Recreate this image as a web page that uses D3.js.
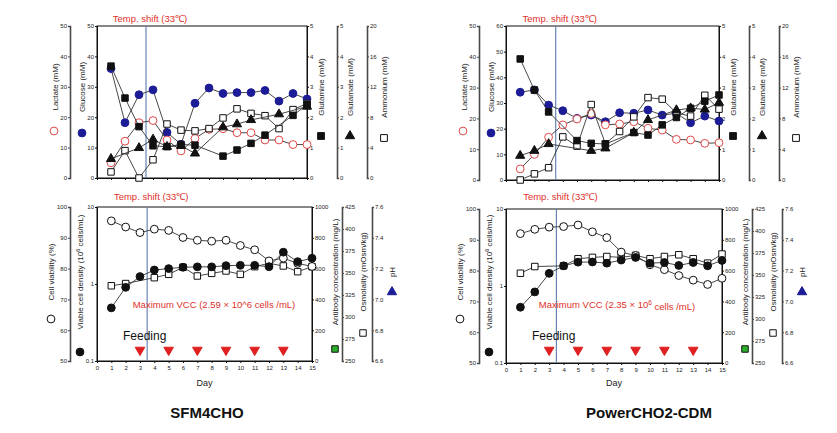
<!DOCTYPE html>
<html><head><meta charset="utf-8">
<script src="https://cdn.jsdelivr.net/npm/d3@7"></script>
<style>body{margin:0;background:#fff}svg{display:block}</style>
</head><body><svg id="c" width="837" height="433"></svg>
<script>
const F = 'Arial, "Liberation Sans", sans-serif';
const days = d3.range(1, 16);
const feedDays = [3, 5, 7, 9, 11, 13];
const tempShiftDay = 3.5;
const dayTicks = d3.range(0, 16);

// SFM4CHO metabolites
const sfmGlucose   = [36, 18.2, 27.4, 29.0, 15.0, 11.1, 24.6, 29.6, 27.8, 28.1, 28.1, 28.8, 25.3, 27.8, 26.0];
const sfmLactate   = [5.0, 12.1, 18.2, 18.9, 12.5, 8.9, 13, 16, 16.2, 14.9, 14.9, 12.5, 12.5, 11.0, 11.0];
const sfmGlutamine = [3.68, 2.63, 1.69, 1.06, 1.03, 1.10, 1.08, null, 0.72, 0.92, 1.14, 1.41, null, 2.06, 2.41];
const sfmGlutamate = [0.63, null, 0.99, 1.27, 1.03, 1.06, 0.81, null, 1.67, 1.77, 1.91, null, 2.1, null, 2.35];
const sfmAmmonium  = [0.8, 3.6, 0, 2.4, 7.1, 6.3, 6.2, 6.5, 7.9, 9.1, 8.5, 8.2, 6.5, 9.0, 9.8];
// PowerCHO2-CDM metabolites
const pwrGlucose   = [34.2, 35.1, 29.2, 27.0, 24.0, 25.3, 22.7, 26.2, 26.0, 27.3, 25.3, 26.0, 22.3, 24.9, 23.0];
const pwrLactate   = [3.6, 8.3, 13.9, 17.9, 19.8, 21.6, 17.9, 18.2, 18.9, 16.8, 16.2, 13.2, 13.0, 11.9, 12.1];
const pwrGlutamine = [3.93, 2.92, 2.21, null, 1.28, 1.19, 1.17, null, 1.54, 1.46, 1.79, 2.03, 2.33, 2.56, 2.76];
const pwrGlutamate = [0.79, 0.95, 1.17, null, null, 0.95, 1.03, null, 1.54, 1.95, null, 2.27, 2.33, 2.29, 2.51];
const pwrAmmonium  = [0, 0.8, 1.6, 5.6, 4.4, 9.8, 4.7, 6.3, 8.2, 10.7, 10.5, 8.7, 8.3, 11.0, 9.2];
// Cell culture
const sfmViability = [95.5, 93.5, 91.7, 92.8, 92.4, 90.1, 89.2, 88.9, 89.2, 87.5, 86.1, 82.5, 83.4, 81.7, 80.7];
const sfmVCD       = [0.49, 0.905, 1.25, 1.52, 1.585, 1.65, 1.67, 1.67, 1.73, 1.75, 1.75, 1.68, 2.59, 1.95, 2.16];
const sfmOsmo      = [335.5, 338, null, 344.7, 348.5, 356.5, 346.6, 349.6, 352.3, 348.5, 357.2, 361, 358, 351.5, 357.2];
const pwrViability = [92.0, 93.4, 94.1, 94.3, 94.8, 92.6, 90.7, 86.0, 84.9, 81.9, 80.3, 78.4, 76.9, 75.5, 77.5];
const pwrVCD       = [0.53, 0.838, 1.46, 1.83, 2.04, 2.05, 1.98, 2.17, 2.35, 1.98, 2.02, 1.85, 2.02, 1.83, 2.15];
const pwrOsmo      = [352, 359.6, null, 360.4, 368.5, 370, 371, 370, 372.3, 368.5, 371, 373, 368.5, 363.5, 373.8];

const svg = d3.select('#c');
const RED = '#e0302a', BLUE = '#1c1c96';
const fmtInt = d3.format('d');

function addAxis(gen, tx, ty, heavy) {
  const g = svg.append('g').attr('transform', `translate(${tx},${ty})`).call(gen);
  g.selectAll('path.domain').attr('stroke', heavy ? '#4a4a4a' : '#111').attr('stroke-width', heavy ? 1.6 : 1);
  g.selectAll('.tick line').attr('stroke', heavy ? '#4a4a4a' : '#111');
  g.selectAll('.tick text').attr('font-size', 6).attr('font-family', F).attr('fill', '#222');
  return g;
}
function vlabel(x, y, text, sup, rest) {
  const t = svg.append('text').attr('transform', `translate(${x},${y}) rotate(-90)`)
    .attr('text-anchor', 'middle').attr('dy', '0.35em').attr('font-size', 8)
    .attr('font-family', F).attr('fill', '#222');
  t.append('tspan').text(text);
  if (sup) { t.append('tspan').attr('font-size', 5.5).attr('dy', '-0.5em').text(sup); t.append('tspan').attr('dy', '0.35em').text(rest); }
}
function mark(x, y, type, fill, stroke, size) {
  svg.append('path').attr('transform', `translate(${x},${y})`)
    .attr('d', d3.symbol(type, size)).attr('fill', fill).attr('stroke', stroke).attr('stroke-width', 1);
}
function series(x, y, vals, type, fill, stroke, size) {
  const pts = days.map((d, i) => [d, vals[i]]).filter(p => p[1] != null);
  svg.append('path').datum(pts).attr('d', d3.line().x(p => x(p[0])).y(p => y(p[1])))
    .attr('fill', 'none').attr('stroke', '#333').attr('stroke-width', 0.9);
  svg.append('g').selectAll('path').data(pts).join('path')
    .attr('transform', p => `translate(${x(p[0])},${y(p[1])})`)
    .attr('d', d3.symbol(type, size)).attr('fill', fill).attr('stroke', stroke).attr('stroke-width', 1);
}
function tempShift(x, top, bottom, ty) {
  svg.append('line').attr('x1', x(tempShiftDay)).attr('x2', x(tempShiftDay)).attr('y1', top).attr('y2', bottom)
    .attr('stroke', '#6a86b5').attr('stroke-width', 1.2);
  svg.append('text').attr('x', x(tempShiftDay) + 4).attr('y', ty).attr('text-anchor', 'middle')
    .attr('font-size', 9.5).attr('font-family', F).attr('fill', RED).text('Temp. shift (33\u2103)');
}

function drawTop(c) {
  const { L, R, T, B } = c;
  const x = d3.scaleLinear().domain([0, 15]).range([L, R]);
  const yGlc = d3.scaleLinear().domain([0, c.glcMax]).range([B, T]);
  const yLac = d3.scaleLinear().domain([0, 50]).range([B, T]);
  const yGln = d3.scaleLinear().domain([0, 5]).range([B, T]);
  const yAmm = d3.scaleLinear().domain([0, 20]).range([B, T]);
  svg.append('rect').attr('x', L).attr('y', T).attr('width', R - L).attr('height', B - T).attr('fill', 'none').attr('stroke', '#111');
  addAxis(d3.axisBottom(x).tickValues(dayTicks).tickSize(2).tickFormat(''), 0, B, false);
  addAxis(d3.axisLeft(yGlc).tickValues(d3.range(0, c.glcMax + 1, 10)).tickFormat(fmtInt).tickSize(2).tickPadding(1), L, 0, false);
  addAxis(d3.axisLeft(yLac).tickValues(d3.range(0, 51, 10)).tickFormat(fmtInt).tickSize(2).tickPadding(1), L - 27, 0, true);
  addAxis(d3.axisRight(yGln).tickValues(d3.range(0, 6)).tickFormat(fmtInt).tickSize(2).tickPadding(1), R, 0, false);
  addAxis(d3.axisRight(yGln).tickValues(d3.range(0, 6)).tickFormat(fmtInt).tickSize(2).tickPadding(1), R + 30, 0, true);
  addAxis(d3.axisRight(yAmm).tickValues([0, 4, 8, 12, 16, 20]).tickFormat(fmtInt).tickSize(2).tickPadding(1), R + 60, 0, true);
  tempShift(x, T, B, 22);
  series(x, yGlc, c.glc, d3.symbolCircle, BLUE, BLUE, 48);
  series(x, yLac, c.lac, d3.symbolCircle, '#fff', '#e04848', 48);
  series(x, yAmm, c.amm, d3.symbolSquare, '#fff', '#111', 42);
  series(x, yGln, c.glu, d3.symbolTriangle, '#111', '#111', 36);
  series(x, yGln, c.gln, d3.symbolSquare, '#111', '#111', 42);
  const my = 87;
  vlabel(L - 42, my, 'Lactate (mM)'); mark(L - 43, 131, d3.symbolCircle, '#fff', '#e04848', 48);
  vlabel(L - 15, my, 'Glucose (mM)'); mark(L - 15, 133, d3.symbolCircle, BLUE, BLUE, 48);
  vlabel(R + 14, my, 'Glutamine (mM)'); mark(R + 14, 136, d3.symbolSquare, '#111', '#111', 46);
  vlabel(R + 43, my, 'Glutamate (mM)'); mark(R + 43, 136, d3.symbolTriangle, '#111', '#111', 38);
  vlabel(R + 77, my, 'Ammonium (mM)'); mark(R + 77, 138, d3.symbolSquare, '#fff', '#111', 46);
}

function drawBottom(c) {
  const { L, R, T, B } = c;
  const x = d3.scaleLinear().domain([0, 15]).range([L, R]);
  const yVia = d3.scaleLinear().domain([50, 100]).range([B, T]);
  const yVcd = d3.scaleLog().domain([0.1, 10]).range([B, T]);
  const yAb = d3.scaleLinear().domain([0, 1000]).range([B, T]);
  const yOsm = d3.scaleLinear().domain([250, 425]).range([B, T]);
  const yPh = d3.scaleLinear().domain([6.6, 7.6]).range([B, T]);
  svg.append('rect').attr('x', L).attr('y', T).attr('width', R - L).attr('height', B - T).attr('fill', 'none').attr('stroke', '#111');
  addAxis(d3.axisBottom(x).tickValues(dayTicks).tickFormat(fmtInt).tickSize(2).tickPadding(3), 0, B, false);
  addAxis(d3.axisLeft(yVcd).tickValues([0.1, 1, 10]).tickFormat(d3.format('')).tickSize(2).tickPadding(1), L, 0, false);
  addAxis(d3.axisLeft(yVia).tickValues(d3.range(50, 101, 10)).tickFormat(fmtInt).tickSize(2).tickPadding(1), L - 27, 0, true);
  addAxis(d3.axisRight(yAb).tickValues(d3.range(0, 1001, 200)).tickFormat(fmtInt).tickSize(2).tickPadding(1), R, 0, false);
  addAxis(d3.axisRight(yOsm).tickValues(d3.range(250, 426, 25)).tickFormat(fmtInt).tickSize(2).tickPadding(1), R + 30, 0, true);
  addAxis(d3.axisRight(yPh).tickValues([6.6, 6.8, 7.0, 7.2, 7.4, 7.6]).tickFormat(d3.format('.1f')).tickSize(2).tickPadding(1), R + 60, 0, true);
  tempShift(x, T, B, 200);
  series(x, yOsm, c.osm, d3.symbolSquare, '#fff', '#111', 42);
  series(x, yVia, c.via, d3.symbolCircle, '#fff', '#111', 48);
  series(x, yVcd, c.vcd, d3.symbolCircle, '#111', '#111', 48);
  svg.append('g').selectAll('path').data(feedDays).join('path')
    .attr('transform', d => `translate(${x(d)},350) rotate(180)`)
    .attr('d', d3.symbol(d3.symbolTriangle, 40)).attr('fill', '#e02020').attr('stroke', '#e02020');
  svg.append('text').attr('x', L + 26).attr('y', 340).attr('font-size', 12).attr('font-family', F).attr('fill', '#111').text('Feeding');
  const mt = svg.append('text').attr('x', c.vccX).attr('y', 308).attr('text-anchor', 'middle')
    .attr('font-size', 9.5).attr('font-family', F).attr('fill', RED);
  mt.append('tspan').text(c.vccA);
  if (c.vccSup) { mt.append('tspan').attr('font-size', 6.5).attr('dy', '-0.5em').text(c.vccSup); mt.append('tspan').attr('dy', '0.5em').text(c.vccB); }
  svg.append('text').attr('x', (L + R) / 2).attr('y', 386).attr('text-anchor', 'middle').attr('font-size', 9).attr('font-family', F).attr('fill', '#222').text('Day');
  const my = 272;
  vlabel(L - 46, my, 'Cell viability (%)'); mark(L - 46, 319, d3.symbolCircle, '#fff', '#111', 48);
  vlabel(L - 17, my, 'Viable cell density (10', '6', ' cells/mL)'); mark(L - 17, 352, d3.symbolCircle, '#111', '#111', 48);
  vlabel(R + 23, my, 'Antibody concentration (mg/L)'); mark(R + 23, 349, d3.symbolSquare, '#2bb02b', '#111', 42);
  vlabel(R + 51, my, 'Osmolality (mOsm/kg)'); mark(R + 51, 333, d3.symbolSquare, '#fff', '#111', 42);
  vlabel(R + 80, my, 'pH'); mark(R + 80, 292, d3.symbolTriangle, BLUE, BLUE, 38);
  svg.append('text').attr('x', c.titleX).attr('y', 418).attr('text-anchor', 'middle').attr('font-size', 15)
    .attr('font-weight', 'bold').attr('font-family', F).attr('fill', '#111').text(c.title);
}

drawTop({ L: 97, R: 307, T: 26, B: 178, glcMax: 50, glc: sfmGlucose, lac: sfmLactate, gln: sfmGlutamine, glu: sfmGlutamate, amm: sfmAmmonium });
drawTop({ L: 506, R: 719, T: 26, B: 180, glcMax: 60, glc: pwrGlucose, lac: pwrLactate, gln: pwrGlutamine, glu: pwrGlutamate, amm: pwrAmmonium });
drawBottom({ L: 97, R: 312, T: 207, B: 361, via: sfmViability, vcd: sfmVCD, osm: sfmOsmo, vccX: 214, vccA: 'Maximum VCC (2.59 \u00d7 10^6 cells /mL)', title: 'SFM4CHO', titleX: 207 });
drawBottom({ L: 506, R: 722, T: 209, B: 363, via: pwrViability, vcd: pwrVCD, osm: pwrOsmo, vccX: 617, vccA: 'Maximum VCC (2.35 \u00d7 10', vccSup: '6', vccB: ' cells /mL)', title: 'PowerCHO2-CDM', titleX: 649 });
</script></body></html>
